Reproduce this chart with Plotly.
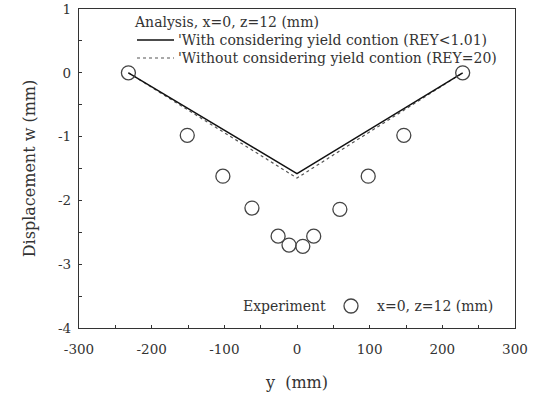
import plotly.graph_objects as go

# Experiment data (x=0, z=12 mm)
exp_y = [-232, -151, -102, -62, -26, -11, 8, 23, 59, 98, 147, 228]
exp_w = [0.0, -0.98, -1.62, -2.12, -2.56, -2.70, -2.72, -2.56, -2.14, -1.62, -0.98, 0.0]

# Analysis: with considering yield condition (REY<1.01)
ana1_y = [-232, 0, 228]
ana1_w = [0.0, -1.58, 0.0]

# Analysis: without considering yield condition (REY=20)
ana2_y = [-232, 0, 228]
ana2_w = [0.0, -1.65, 0.0]

x_ticks = [-300, -200, -100, 0, 100, 200, 300]
y_ticks = [-4, -3, -2, -1, 0, 1]

FONT = "DejaVu Serif"
TXT = "#333333"

fig = go.Figure()
fig.add_trace(go.Scatter(x=ana2_y, y=ana2_w, mode="lines",
                         line=dict(color="#555555", width=1.2, dash="dot"),
                         showlegend=False))
fig.add_trace(go.Scatter(x=ana1_y, y=ana1_w, mode="lines",
                         line=dict(color="#111111", width=1.4),
                         showlegend=False))
fig.add_trace(go.Scatter(x=exp_y, y=exp_w, mode="markers",
                         marker=dict(symbol="circle-open", size=14,
                                     color="#444444", line=dict(width=1.3)),
                         showlegend=False))

axis_common = dict(showline=True, linecolor="#333333", linewidth=1.3, mirror=True,
                   showgrid=False, zeroline=False, ticks="inside", ticklen=3,
                   tickcolor="#333333", automargin=False,
                   tickfont=dict(family=FONT, size=13.5, color=TXT))

fig.update_xaxes(range=[-300, 300], tickvals=x_ticks,
                 ticktext=[str(v) for v in x_ticks], ticklabelstandoff=9,
                 minor=dict(ticks="inside", dtick=50, ticklen=3, tickcolor="#333333"),
                 title=dict(text="y  (mm)", font=dict(family=FONT, size=16, color=TXT),
                            standoff=20),
                 **axis_common)
fig.update_yaxes(range=[-4, 1], tickvals=y_ticks,
                 ticktext=[str(v) for v in y_ticks], ticklabelstandoff=4,
                 minor=dict(ticks="inside", dtick=0.5, ticklen=3, tickcolor="#333333"),
                 title=dict(text="Displacement w (mm)",
                            font=dict(family=FONT, size=16, color=TXT), standoff=18),
                 **axis_common)

# Legend (custom)
W, H = 539, 396
L, R, T, B = 79, 24, 9, 68
pw, ph = W - L - R, H - T - B
def px(x):
    return (x - L) / pw
def py(y):
    return 1 - (y - T) / ph

annos = [
    dict(text="Analysis, x=0, z=12 (mm)", x=px(132), y=py(22)),
    dict(text="'With considering yield contion (REY<1.01)", x=px(176), y=py(40)),
    dict(text="'Without considering yield contion (REY=20)", x=px(176), y=py(58)),
    dict(text="Experiment", x=px(241), y=py(306)),
    dict(text="x=0, z=12 (mm)", x=px(375), y=py(306)),
]
for a in annos:
    fig.add_annotation(xref="paper", yref="paper", xanchor="left", yanchor="middle",
                       showarrow=False, font=dict(family=FONT, size=14, color=TXT), **a)

fig.add_shape(type="line", xref="paper", yref="paper", x0=px(137), x1=px(174),
              y0=py(40), y1=py(40), line=dict(color="#111111", width=1.4))
fig.add_shape(type="line", xref="paper", yref="paper", x0=px(137), x1=px(174),
              y0=py(58), y1=py(58), line=dict(color="#555555", width=1.2, dash="dot"))
fig.add_shape(type="circle", xref="paper", yref="paper", x0=px(344), x1=px(358),
              y0=py(299), y1=py(313), line=dict(color="#444444", width=1.3))

fig.update_layout(width=W, height=H, margin=dict(l=L, r=R, t=T, b=B),
                  plot_bgcolor="white", paper_bgcolor="white",
                  font=dict(family=FONT, color=TXT))

fig.write_html("out.html")
